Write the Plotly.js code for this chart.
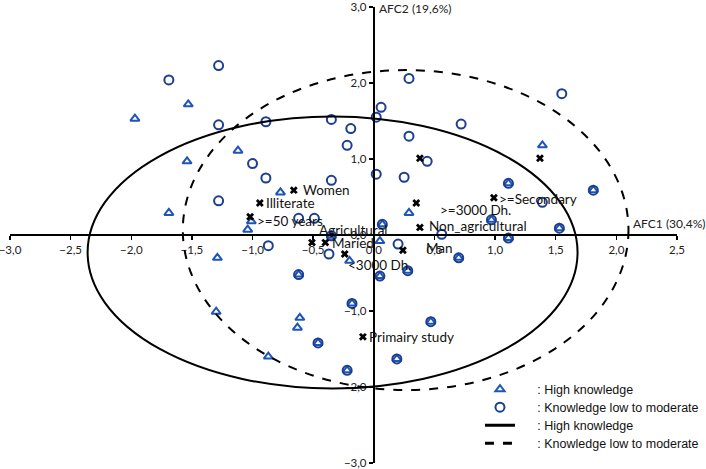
<!DOCTYPE html>
<html>
<head>
<meta charset="utf-8">
<script src="https://cdn.plot.ly/plotly-3.0.1.min.js"></script>
<style>html,body{margin:0;padding:0;background:#fff}#chart{width:706px;height:469px}</style>
</head>
<body>
<div id="chart"></div>
<script>
// High knowledge individuals (triangles)
const highX = [-1.53,-1.97,-1.12,-1.54,-0.77,-1.69,-1.01,-1.04,-1.29,-0.20,0.05,1.39,0.29,-1.30,-0.61,-0.63,-0.87,
  -0.35,0.07,1.11,1.81,0.97,1.53,1.11,0.70,0.28,0.05,-0.62,-0.18,-0.46,-0.22,0.19,0.47];
const highY = [1.72,1.53,1.11,0.97,0.56,0.29,0.18,0.07,-0.30,-0.34,-0.08,1.18,0.29,-1.01,-1.09,-1.22,-1.60,
  -0.01,0.14,0.68,0.59,0.20,0.09,-0.04,-0.30,-0.47,-0.54,-0.52,-0.90,-1.42,-1.78,-1.63,-1.14];
// Knowledge low to moderate individuals (circles)
const lowX = [-1.28,-1.69,-1.28,-0.89,-0.35,-0.19,-0.22,-1.00,-0.89,-0.35,-1.28,-0.62,-0.49,0.02,-0.87,-0.37,0.20,
  0.29,1.55,0.06,0.02,0.72,0.29,0.44,0.25,1.39,0.56,
  -0.35,0.07,1.11,1.81,0.97,1.53,1.11,0.70,0.28,0.05,-0.62,-0.18,-0.46,-0.22,0.19,0.47];
const lowY = [2.23,2.04,1.45,1.49,1.52,1.40,1.18,0.94,0.75,0.72,0.45,0.22,0.22,0.80,-0.14,-0.25,-0.12,
  2.06,1.86,1.68,1.55,1.46,1.30,0.97,0.76,0.43,0.01,
  -0.01,0.14,0.68,0.59,0.20,0.09,-0.04,-0.30,-0.47,-0.54,-0.52,-0.90,-1.42,-1.78,-1.63,-1.14];
// Modalities (x markers)
const catLabels = ["Women","Illiterate",">=50 years","Agricultural","Maried","&lt;3000 Dh.","Man","Non_agricultural",">=3000 Dh.",">=Secondary","Primairy study","",""];
const catX = [-0.66,-0.94,-1.02,-0.51,-0.40,-0.24,0.24,0.38,0.35,0.99,-0.09,0.38,1.37];
const catY = [0.59,0.42,0.24,-0.10,-0.10,-0.25,-0.20,0.10,0.42,0.49,-1.34,1.01,1.01];
// Label offsets in pixels (style)
const labelDX = [7,4,5,5,5,1,21,7,22,3,4,0,0];
const labelDY = [0,0,-4,13,0,-11,2,1,-7,-1,0,0,0];
// Confidence ellipses [xmin, xmax, ymin, ymax]
const ellHigh = [-2.36,1.68,-2.02,1.56];
const ellLow = [-1.575,2.10,-2.04,2.17];
// Axis ticks
const xTicks = [-3,-2.5,-2,-1.5,-1,-0.5,0,0.5,1,1.5,2,2.5];
const yTicks = [-3,-2,-1,0,1,2,3];
// Legend texts
const legendNames = [': High knowledge', ': Knowledge low to moderate', ': High knowledge', ': Knowledge low to moderate'];

const triColor = '#1f55b8';
const cirColor = '#1c3f8f';
const fontFam = 'Lato, "Liberation Sans", sans-serif';
const legFont = {family:'"Liberation Sans", Arial, sans-serif', size:12.5, color:'#111'};
const pad = '&nbsp;&nbsp;&nbsp;&nbsp;&nbsp;';

const traces = [
  {x: highX, y: highY, type:'scatter', mode:'markers', name: pad + legendNames[0], legend:'legend',
   marker:{symbol:'triangle-up-open', size:8, color:triColor, line:{width:2, color:triColor}}},
  {x: lowX, y: lowY, type:'scatter', mode:'markers', name: pad + legendNames[1], legend:'legend2',
   marker:{symbol:'circle-open', size:9, color:cirColor, line:{width:2, color:cirColor}}},
  {x: catX, y: catY, type:'scatter', mode:'markers', showlegend:false,
   marker:{symbol:'x', size:7, color:'#000', line:{width:0}}},
  // legend keys for the ellipses (the ellipses themselves are layout shapes)
  {x:[null], y:[null], type:'scatter', mode:'lines', name: pad + legendNames[2], legend:'legend3',
   line:{color:'#000', width:3}},
  {x:[null], y:[null], type:'scatter', mode:'lines', name: pad + legendNames[3], legend:'legend4',
   line:{color:'#000', width:3, dash:'dash'}}
];

const annotations = catLabels.map((t,i)=>({
  x: catX[i], y: catY[i], xref:'x', yref:'y', text:t, showarrow:false,
  xanchor:'left', yanchor:'middle', xshift: labelDX[i], yshift: labelDY[i],
  font:{family:fontFam, size:13.5, color:'#111'}
})).filter(a=>a.text!=='');
annotations.push({xref:'x', yref:'y', x:2.12, y:0, text:'AFC1 (30,4%)', showarrow:false,
  xanchor:'left', yanchor:'bottom', yshift:2, font:{family:fontFam, size:12, color:'#222'}});
annotations.push({xref:'x', yref:'y', x:0, y:3, text:'AFC2 (19,6%)', showarrow:false,
  xanchor:'left', yanchor:'middle', xshift:3, yshift:-1, font:{family:fontFam, size:12, color:'#222'}});

const shapes = [
  {type:'circle', xref:'x', yref:'y', x0:ellHigh[0], x1:ellHigh[1], y0:ellHigh[2], y1:ellHigh[3],
   line:{color:'#000', width:2}},
  {type:'circle', xref:'x', yref:'y', x0:ellLow[0], x1:ellLow[1], y0:ellLow[2], y1:ellLow[3],
   line:{color:'#000', width:2, dash:'dash'}}
];

function leg(yc){
  return {x:0.7046, y:yc, xanchor:'left', yanchor:'middle', bgcolor:'rgba(0,0,0,0)',
    font:legFont, itemwidth:30};
}

const layout = {
  width:706, height:469,
  margin:{l:10, r:29, t:7, b:6, autoexpand:false},
  paper_bgcolor:'#fff', plot_bgcolor:'#fff',
  separators:',.',
  showlegend:true,
  legend: leg(0.1610), legend2: leg(0.1215), legend3: leg(0.0820), legend4: leg(0.0425),
  xaxis:{range:[-3,2.5], anchor:'free', position:0.5, showgrid:false, zeroline:false, automargin:false,
    showline:true, linecolor:'#000', linewidth:2, ticks:'outside', ticklen:4, tickcolor:'#000', tickwidth:1.5,
    tickvals:xTicks, tickformat:'.1f', ticklabeloverflow:'allow',
    tickfont:{family:fontFam, size:11.5, color:'#222'}},
  yaxis:{range:[-3,3], anchor:'free', position:3/5.5, showgrid:false, zeroline:false, automargin:false,
    showline:true, linecolor:'#000', linewidth:2, ticks:'outside', ticklen:4, tickcolor:'#000', tickwidth:1.5,
    tickvals:yTicks, tickformat:'.1f', ticklabeloverflow:'allow',
    tickfont:{family:fontFam, size:11.5, color:'#222'}},
  annotations: annotations,
  shapes: shapes
};

Plotly.newPlot('chart', traces, layout, {displayModeBar:false, staticPlot:true});
</script>
</body>
</html>
